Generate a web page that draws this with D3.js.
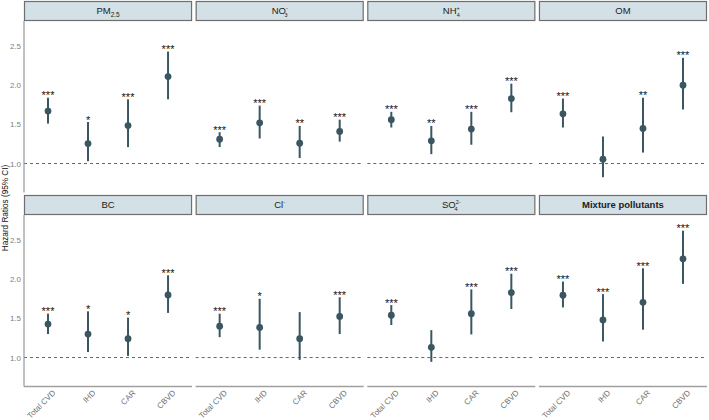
<!DOCTYPE html>
<html>
<head>
<meta charset="utf-8">
<script src="https://cdn.jsdelivr.net/npm/d3@7"></script>
<style>
  html, body { margin: 0; padding: 0; background: #fff; }
  svg { display: block; font-family: "Liberation Sans", Arial, sans-serif; }
</style>
</head>
<body>
<svg id="chart" width="709" height="420"></svg>
<script>
// ---------------- data ----------------
const outcomes = ["Total CVD", "IHD", "CAR", "CBVD"];
const pollutants = ["PM2.5", "NO3-", "NH4+", "OM", "BC", "Cl-", "SO42-", "Mixture pollutants"];
// strip label pieces: base text, superscript, subscript
const labelBase = ["PM", "NO", "NH", "OM", "BC", "Cl", "SO", "Mixture pollutants"];
const labelSup  = ["", "-", "+", "", "", "-", "2-", ""];
const labelSub  = ["2.5", "3", "4", "", "", "", "4", ""];

const hr = [
  [1.67, 1.255, 1.485, 2.11],
  [1.31, 1.52, 1.26, 1.41],
  [1.56, 1.29, 1.44, 1.83],
  [1.635, 1.055, 1.447, 2.00],
  [1.427, 1.30, 1.24, 1.80],
  [1.40, 1.385, 1.24, 1.525],
  [1.54, 1.13, 1.56, 1.83],
  [1.795, 1.48, 1.705, 2.26]
];
const lower = [
  [1.51, 1.03, 1.21, 1.82],
  [1.21, 1.32, 1.07, 1.28],
  [1.46, 1.12, 1.24, 1.655],
  [1.46, 0.825, 1.14, 1.69],
  [1.30, 1.07, 1.02, 1.57],
  [1.26, 1.10, 0.97, 1.30],
  [1.415, 0.945, 1.295, 1.62],
  [1.64, 1.205, 1.355, 1.94]
];
const upper = [
  [1.84, 1.53, 1.82, 2.43],
  [1.40, 1.74, 1.48, 1.56],
  [1.66, 1.48, 1.66, 2.02],
  [1.83, 1.345, 1.84, 2.35],
  [1.56, 1.59, 1.51, 2.05],
  [1.56, 1.75, 1.58, 1.77],
  [1.67, 1.35, 1.87, 2.07],
  [1.97, 1.81, 2.14, 2.62]
];
const sig = [
  ["***", "*", "***", "***"],
  ["***", "***", "**", "***"],
  ["***", "**", "***", "***"],
  ["***", "", "**", "***"],
  ["***", "*", "*", "***"],
  ["***", "*", "", "***"],
  ["***", "", "***", "***"],
  ["***", "***", "***", "***"]
];
const yTicks = [1.0, 1.5, 2.0, 2.5];
const yDomain = [0.63, 2.82];

// ---------------- layout ----------------
const svg = d3.select("#chart");
const left = 24, right = 707, gap = 3.6;
const nCol = 4;
const panelW = (right - left - gap * (nCol - 1)) / nCol;
const stripH = 20;
const rowTops = [1, 195];
const panelH = 171.5;
const lineColor = "#3b5660";
const axisGrey = "#a0a0a0";

const x = d3.scalePoint().domain(outcomes).range([0, panelW]).padding(0.6);
const y = d3.scaleLinear().domain(yDomain).range([panelH, 0]);

pollutants.forEach((p, i) => {
  const col = i % nCol, row = Math.floor(i / nCol);
  const px = left + col * (panelW + gap);
  const stripTop = rowTops[row];
  const py = stripTop + stripH;

  const g = svg.append("g").attr("transform", `translate(${px},${py})`);

  // strip
  svg.append("rect")
    .attr("x", px + 0.5).attr("y", stripTop + 0.5)
    .attr("width", panelW - 1).attr("height", stripH - 1)
    .attr("fill", "#d3e0e6").attr("stroke", "#6e6e6e").attr("stroke-width", 1.2);

  const st = svg.append("text")
    .attr("x", px + panelW / 2).attr("y", stripTop + stripH / 2 + 3.4)
    .attr("text-anchor", "middle")
    .attr("font-size", 9.5)
    .attr("fill", "#222")
    .attr("font-weight", labelBase[i] === "Mixture pollutants" ? "bold" : "normal");
  st.append("tspan").text(labelBase[i]);
  if (labelSup[i] && labelSub[i]) {
    st.append("tspan").attr("font-size", 5.5).attr("dy", -4).text(labelSup[i]);
    const supW = labelSup[i].length * 3.1;
    st.append("tspan").attr("font-size", 5.5).attr("dx", -supW).attr("dy", 6.5).text(labelSub[i]);
  } else if (labelSup[i]) {
    st.append("tspan").attr("font-size", 5.5).attr("dy", -4).text(labelSup[i]);
  } else if (labelSub[i]) {
    st.append("tspan").attr("font-size", 6.5).attr("dy", 2.5).text(labelSub[i]);
  }

  // reference line at 1
  g.append("line")
    .attr("x1", 0).attr("x2", panelW)
    .attr("y1", y(1)).attr("y2", y(1))
    .attr("stroke", "#555").attr("stroke-width", 0.9)
    .attr("stroke-dasharray", "3,3");

  // y axis on left column
  if (col === 0) {
    g.append("line").attr("x1", 0).attr("x2", 0).attr("y1", 0).attr("y2", panelH)
      .attr("stroke", axisGrey).attr("stroke-width", 1.3);
    g.selectAll(".yt").data(yTicks).enter().append("text")
      .attr("x", -3).attr("y", d => y(d) + 3)
      .attr("text-anchor", "end").attr("font-size", 8)
      .attr("fill", "#808080")
      .text(d => d.toFixed(1));
  }

  // x axis on bottom row
  if (row === 1) {
    g.append("line").attr("x1", 0).attr("x2", panelW).attr("y1", panelH).attr("y2", panelH)
      .attr("stroke", axisGrey).attr("stroke-width", 1.3);
    outcomes.forEach(o => {
      g.append("text")
        .attr("transform", `translate(${x(o) + 4},${panelH + 3}) rotate(-45)`)
        .attr("text-anchor", "end")
        .attr("dy", "0.7em")
        .attr("font-size", 8)
        .attr("fill", "#707070")
        .text(o);
    });
  }

  // error bars, points, stars
  outcomes.forEach((o, j) => {
    const cx = x(o);
    g.append("line")
      .attr("x1", cx).attr("x2", cx)
      .attr("y1", y(lower[i][j])).attr("y2", y(upper[i][j]))
      .attr("stroke", lineColor).attr("stroke-width", 2);
    g.append("circle")
      .attr("cx", cx).attr("cy", y(hr[i][j])).attr("r", 3.4)
      .attr("fill", lineColor);
    if (sig[i][j]) {
      g.append("text")
        .attr("x", cx).attr("y", y(upper[i][j]) + 1.5)
        .attr("text-anchor", "middle")
        .attr("font-size", 11)
        .attr("fill", "#111")
        .text(sig[i][j]);
    }
  });
});

// y axis title
svg.append("text")
  .attr("transform", `translate(7.5,208) rotate(-90)`)
  .attr("text-anchor", "middle")
  .attr("font-size", 8.2)
  .attr("fill", "#111")
  .text("Hazard Ratios (95% CI)");
</script>
</body>
</html>
